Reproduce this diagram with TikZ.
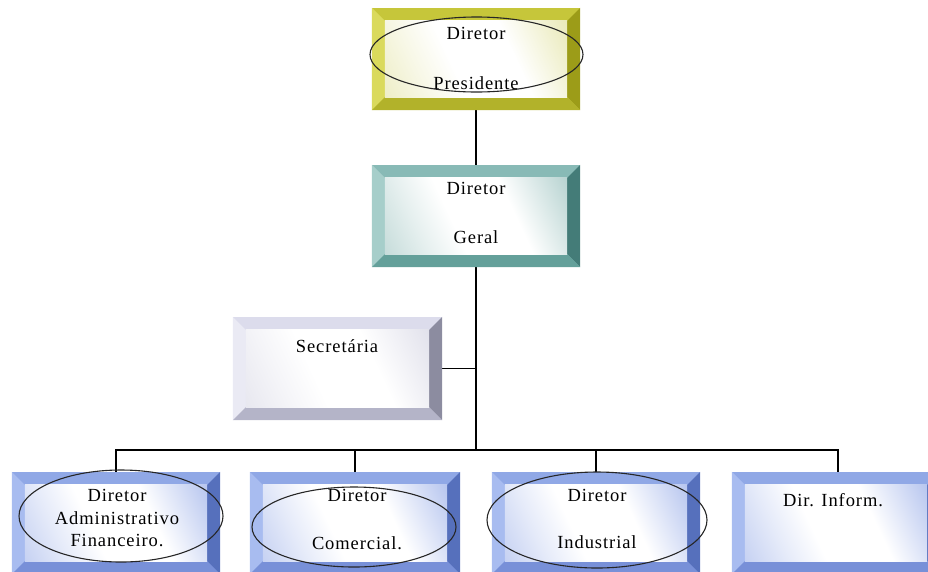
\documentclass[tikz,border=0pt]{standalone}
\usepackage{fontspec}
\setmainfont{Liberation Serif}[LetterSpace=5]
\usetikzlibrary{shapes.geometric}

% bevel colour sets: T top, L left, R right, B bottom, F face
\definecolor{yelT}{HTML}{C6C63A}
\definecolor{yelL}{HTML}{DADA5C}
\definecolor{yelR}{HTML}{9C9C18}
\definecolor{yelB}{HTML}{B2B22A}
\definecolor{yelF}{HTML}{D8D880}
\definecolor{tealT}{HTML}{88BAB6}
\definecolor{tealL}{HTML}{A6CECA}
\definecolor{tealR}{HTML}{447C78}
\definecolor{tealB}{HTML}{64A09A}
\definecolor{tealF}{HTML}{7EB0AC}
\definecolor{lavT}{HTML}{DCDCEC}
\definecolor{lavL}{HTML}{EAEAF4}
\definecolor{lavR}{HTML}{8C8CA0}
\definecolor{lavB}{HTML}{B4B4C8}
\definecolor{lavF}{HTML}{CACADC}
\definecolor{bluT}{HTML}{90A8E6}
\definecolor{bluL}{HTML}{A8BCF0}
\definecolor{bluR}{HTML}{5670BC}
\definecolor{bluB}{HTML}{7890D8}
\definecolor{bluF}{HTML}{7E98E2}
\colorlet{facecol}{bluF}

% face gradient: tinted lower left, white middle band, strong upper right
\pgfdeclarehorizontalshading[facecol]{facegrad}{100bp}{%
  color(0bp)=(facecol!75!white); color(30bp)=(facecol!20!white);
  color(42bp)=(white); color(62bp)=(white); color(100bp)=(facecol)}

\newlength{\bv}
\setlength{\bv}{13pt}

% bevelled rectangle drawn on the anchors of an existing node
\newcommand{\bevelbox}[2]{%
  \fill[#2T] (#1.north west) rectangle (#1.south east);
  \fill[#2L] (#1.north west) -- ([shift={(\bv,-\bv)}]#1.north west)
     -- ([shift={(\bv,\bv)}]#1.south west) -- (#1.south west) -- cycle;
  \fill[#2R] (#1.north east) -- ([shift={(-\bv,-\bv)}]#1.north east)
     -- ([shift={(-\bv,\bv)}]#1.south east) -- (#1.south east) -- cycle;
  \fill[#2B] (#1.south west) -- ([shift={(\bv,\bv)}]#1.south west)
     -- ([shift={(-\bv,\bv)}]#1.south east) -- (#1.south east) -- cycle;
  \colorlet{facecol}{#2F}%
  \shade[shading=facegrad, shading angle=25]
     ([shift={(\bv,-\bv)}]#1.north west) rectangle ([shift={(-\bv,\bv)}]#1.south east);
}

\tikzset{
  boxshape/.style={rectangle, inner sep=0pt, minimum width=208pt, minimum height=102pt},
  label/.style={inner sep=0pt, font=\fontsize{18.5}{20}\selectfont, text=black},
  ring/.style={ellipse, draw=black!85, line width=1.1pt, inner sep=0pt},
  wire/.style={draw=black, line width=1.4pt}
}

\begin{document}
\begin{tikzpicture}[x=1pt, y=-1pt]
\useasboundingbox (0,0) rectangle (928,571);
\clip (0,0) rectangle (928,571);

% box placeholders
\node[boxshape] (pres) at (476,59) {};
\node[boxshape] (geral) at (476,216) {};
\node[boxshape, minimum width=209pt, minimum height=103pt] (sec) at (337.5,368.5) {};
\node[boxshape] (adm) at (116,523) {};
\node[boxshape, minimum width=210pt] (com) at (355,523) {};
\node[boxshape] (ind) at (596,523) {};
\node[boxshape] (inf) at (836,523) {};

% connectors
\coordinate (bus) at (476,450);
\draw[wire] (pres.south) -- (geral.north);
\draw[wire] (geral.south) -- (bus);
\draw[wire] (sec.east) -- (sec.east -| bus);
\draw[wire] (adm.north) |- (bus);
\draw[wire] (com.north) -- (com.north |- bus);
\draw[wire] (ind.north) -- (ind.north |- bus);
\coordinate (infTop) at (838,472);
\draw[wire] (infTop) |- (bus);

% bevelled boxes
\bevelbox{pres}{yel}
\bevelbox{geral}{teal}
\bevelbox{sec}{lav}
\bevelbox{adm}{blu}
\bevelbox{com}{blu}
\bevelbox{ind}{blu}
\bevelbox{inf}{blu}

% labels
\node[label] (pres1) at (476,33) {Diretor};
\node[label] (pres2) at (476,83) {Presidente};
\node[label] (geral1) at (476,188) {Diretor};
\node[label] (geral2) at (476,237) {Geral};
\node[label] (sec1) at (337,346) {Secretária};
\node[label] (adm1) at (117,495) {Diretor};
\node[label] (adm2) at (117,518) {Administrativo};
\node[label] (adm3) at (117,540) {Financeiro.};
\node[label] (com1) at (357,495) {Diretor};
\node[label] (com2) at (357,543) {Comercial.};
\node[label] (ind1) at (597,495) {Diretor};
\node[label] (ind2) at (597,542) {Industrial};
\node[label] (inf1) at (833,500) {Dir. Inform.};

% rings
\node[ring, minimum width=213pt, minimum height=75pt] (presRing) at (476.5,54.5) {};
\node[ring, minimum width=204pt, minimum height=92pt] (admRing) at (121,516) {};
\node[ring, minimum width=204pt, minimum height=80pt] (comRing) at (354,527) {};
\node[ring, minimum width=220pt, minimum height=96pt] (indRing) at (597,520) {};
\end{tikzpicture}
\end{document}
